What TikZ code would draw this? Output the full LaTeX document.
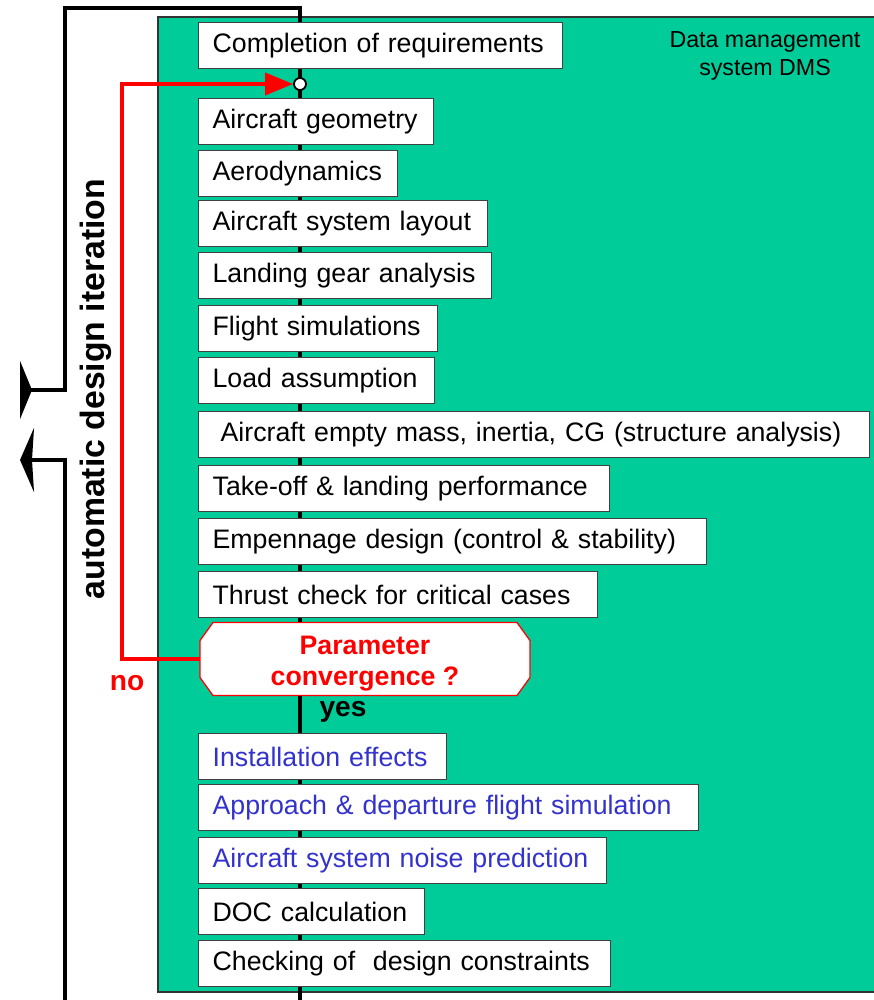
\documentclass[tikz,border=0pt]{standalone}
\usepackage{fontspec}
\setmainfont{Liberation Sans}
\usepackage{xcolor}
\usetikzlibrary{arrows.meta}
\definecolor{dmsgreen}{RGB}{0,204,153}
\definecolor{noteblue}{RGB}{51,51,204}
\definecolor{loopred}{RGB}{255,0,0}
\tikzset{
  stage/.style={draw=black!75, line width=0.9pt, fill=white, anchor=north west, inner xsep=0.35cm, inner ysep=0pt,
    minimum height=1.15cm, text width=#1, align=left, font=\fontsize{19}{22}\selectfont},
  decideedge/.style={draw=loopred, line width=0.9pt, fill=white},
  decide/.style={text=loopred, align=center, inner sep=0pt, font=\bfseries\fontsize{19}{22}\selectfont},
  junc/.style={circle, draw, fill=white, line width=1.3pt, inner sep=0pt, minimum size=0.3cm},
  fbline/.style={draw, line width=2.8pt},
  loopline/.style={draw=loopred, line width=2.8pt},
  tag/.style={font=\bfseries\fontsize{20}{24}\selectfont}
}
\begin{document}
\begin{tikzpicture}[x=0.025cm, y=-0.025cm]
\useasboundingbox (0,0) rectangle (874,1000);
% DMS frame
\filldraw[fill=dmsgreen, draw=black!80, line width=1.2pt] (158,17) rectangle (890,992);
\node[align=center, font=\fontsize{16.5}{20}\selectfont] (dms) at (765,56) {Data management\\system DMS};

% spine and outer iteration lines
\coordinate (spinebot) at (300,1010);
\coordinate (fbtop) at (300,8);
\coordinate (fbleft) at (65,8);
\coordinate (fbmid) at (65,390);
\coordinate (fbend) at (20,390);
\coordinate (fbbot) at (65,1010);
\coordinate (fblow) at (65,460);
\coordinate (fbarrow) at (20,460);
\draw[fbline, -{Triangle[reversed, length=0.3cm, width=1.45cm]}] (spinebot) -- (fbtop) -- (fbleft) -- (fbmid) -- (fbend);
\draw[fbline, -{Stealth[length=0.35cm, width=1.6cm, inset=0.05cm]}] (fbbot) -- (fblow) -- (fbarrow);

% design steps
\node[stage=8.4cm]   (req)   at (198,22)  {Completion of requirements};
\node[stage=5.175cm] (geom)  at (198,98)  {Aircraft geometry};
\node[stage=4.275cm] (aero)  at (198,150) {Aerodynamics};
\node[stage=6.525cm] (sys)   at (198,200) {Aircraft system layout};
\node[stage=6.625cm] (gear)  at (198,252) {Landing gear analysis};
\node[stage=5.275cm] (fsim)  at (198,305) {Flight simulations};
\node[stage=5.2cm]   (load)  at (198,357) {Load assumption};
\node[stage=16.075cm] (mass) at (198,411) {\hspace{0.3em}Aircraft empty mass, inertia, CG (structure analysis)};
\node[stage=9.575cm] (tolp)  at (198,465) {Take-off \& landing performance};
\node[stage=12cm]    (emp)   at (198,518) {Empennage design (control \& stability)};
\node[stage=9.275cm] (thr)   at (198,571) {Thrust check for critical cases};
% octagon
\coordinate (convc) at (365,659);
\coordinate (convw) at (200,659);
\filldraw[decideedge] (convc) ++(-152,-36.5) -- ++(304,0) -- ++(13,18) -- ++(0,37) -- ++(-13,18)
  -- ++(-304,0) -- ++(-13,-18) -- ++(0,-37) -- cycle;
\node[decide]        (conv)  at (365,664) {Parameter\\convergence ?};
\node[stage=5.5cm, text=noteblue]  (inst) at (198,733) {Installation effects};
\node[stage=11.8cm, text=noteblue] (appr) at (198,784) {Approach \& departure flight simulation};
\node[stage=9.5cm, text=noteblue]  (noise) at (198,837) {Aircraft system noise prediction};
\node[stage=4.95cm]  (doc)   at (198,888) {DOC calculation};
\node[stage=9.6cm]   (check) at (198,940) {Checking of \ design constraints};

% convergence loop
\node[junc] (mix) at (300,84) {};
\coordinate (nocorner) at (122,659);
\draw[loopline, -{Triangle[length=0.7cm, width=0.55cm]}] (convw) -- (nocorner) |- (mix);
\node[tag, text=loopred] (no) at (127,683) {no};
\node[tag] (yes) at (343,712) {yes};
\node[rotate=90, font=\bfseries\fontsize{24}{28}\selectfont] (itlabel) at (96,389) {automatic design iteration};
\end{tikzpicture}
\end{document}
